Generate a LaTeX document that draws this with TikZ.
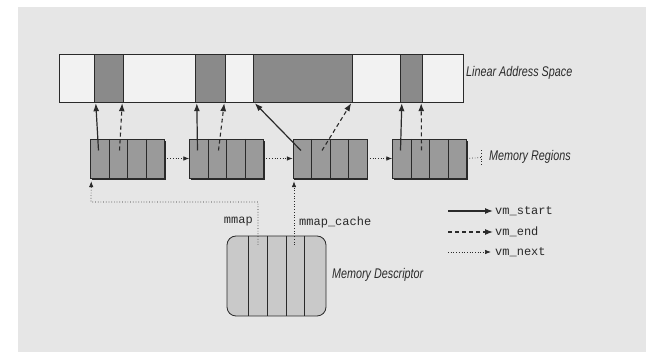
\documentclass[tikz,border=0pt]{standalone}
\usepackage{fontspec}
\setmonofont{Liberation Mono}
\newfontfamily\labelfont[FakeStretch=0.77]{Liberation Sans}
\usetikzlibrary{arrows.meta,calc,shadows}

\definecolor{paper}{HTML}{E6E6E6}
\definecolor{barwhite}{HTML}{F2F2F2}
\definecolor{segfill}{HTML}{8A8A8A}
\definecolor{regfill}{HTML}{9A9A9A}
\definecolor{mdfill}{HTML}{C9C9C9}
\definecolor{ink}{HTML}{2A2A2A}

\begin{document}
\begin{tikzpicture}[x=1pt, y=-1pt,
    segment/.style={draw=ink, fill=segfill, minimum height=48pt, inner sep=0pt},
    region/.style={draw=ink, fill=regfill, minimum width=74pt, minimum height=39pt, inner sep=0pt,
        drop shadow={shadow xshift=1.2pt, shadow yshift=-1.6pt, fill=ink, opacity=1},
        path picture={
            \foreach \f in {0.25,0.5,0.75}
                \draw[ink] ($(path picture bounding box.north west)!\f!(path picture bounding box.north east)$)
                    -- ($(path picture bounding box.south west)!\f!(path picture bounding box.south east)$);
        }},
    descriptor/.style={draw=ink, thick, fill=mdfill, rounded corners=9pt, minimum width=99pt, minimum height=80pt, inner sep=0pt,
        path picture={
            \foreach \f in {0.22,0.41,0.6,0.78}
                \draw[ink] ($(path picture bounding box.north west)!\f!(path picture bounding box.north east)$)
                    -- ($(path picture bounding box.south west)!\f!(path picture bounding box.south east)$);
        }},
    vmstart/.style={ink, line width=1.2pt, -{Latex[length=8pt,width=6pt]}},
    vmend/.style={ink, line width=1.1pt, dash pattern=on 4pt off 3pt, -{Latex[length=8pt,width=6pt]}},
    vmnext/.style={ink, line width=0.7pt, dotted, -{Latex[length=6pt,width=4.5pt]}},
    label/.style={font=\labelfont\itshape\fontsize{14}{16}\selectfont, text=ink, inner sep=0pt},
    mono/.style={font=\ttfamily\fontsize{12}{14}\selectfont, text=ink, inner sep=0pt}
]
    \useasboundingbox (0,0) rectangle (646,352);
    \fill[paper] (18,7) rectangle (646,352);

    % Linear address space with the mapped intervals
    \node[draw=ink, fill=barwhite, thick, minimum width=404pt, minimum height=48pt, inner sep=0pt] (bar) at (261,78) {};
    \node[segment, minimum width=29pt] (seg1) at (108.5,78) {};
    \node[segment, minimum width=30pt] (seg2) at (210,78) {};
    \node[segment, minimum width=99pt] (seg3) at (302.5,78) {};
    \node[segment, minimum width=22pt] (seg4) at (411,78) {};
    \node[label, anchor=west] (lastext) at (466,73) {Linear Address Space};

    % Memory regions
    \node[region] (r1) at (127.5,158.5) {};
    \node[region] (r2) at (226.5,158.5) {};
    \node[region] (r3) at (330,158.5) {};
    \node[region] (r4) at (429.5,158.5) {};
    \node[label, anchor=west] (regtext) at (489,157) {Memory Regions};

    % vm_start / vm_end pointers up to the address space
    \foreach \r/\s in {r1/seg1, r2/seg2, r3/seg3, r4/seg4} {
        \path (\r) ++(-29,-8) coordinate (\r-start) ++(21,0) coordinate (\r-end);
        \draw[vmstart] (\r-start) -- ([xshift=2pt,yshift=-1pt]\s.south west);
        \draw[vmend] (\r-end) -- ([xshift=-1pt,yshift=-1pt]\s.south east);
    }

    % vm_next chain
    \foreach \a/\b in {r1/r2, r2/r3, r3/r4} {
        \draw[vmnext] (\a.east) -- (\b.west);
    }
    \coordinate (nil) at (481,157.5);
    \draw[ink, line width=0.7pt, dotted] (r4.east) -- (nil);
    \draw[ink, line width=0.7pt, dotted] ($(nil)+(0,-7)$) -- ($(nil)+(0,7)$);

    % Memory descriptor
    \node[descriptor] (md) at (276.5,276) {};
    \node[label, anchor=west] (mdtext) at (332,275) {Memory Descriptor};
    \coordinate (mmap) at (258,245);
    \coordinate (cache) at (294,245);
    \coordinate (bend) at (91,202);
    \draw[vmnext, shorten >=3pt] (mmap) |- (bend) -- ([xshift=1pt]r1.south west);
    \draw[vmnext, shorten >=3pt] (cache) -- (cache |- r3.south);
    \node[mono, anchor=east] (mmaplbl) at (253,222) {mmap};
    \node[mono, anchor=west] (cachelbl) at (299,222) {mmap\_cache};

    % Legend
    \coordinate (ls1) at (448,211); \coordinate (le1) at (493,211);
    \coordinate (ls2) at (448,232); \coordinate (le2) at (493,232);
    \coordinate (ls3) at (448,252); \coordinate (le3) at (491,252);
    \draw[vmstart] (ls1) -- (le1);
    \draw[vmend] (ls2) -- (le2);
    \draw[vmnext] (ls3) -- (le3);
    \node[mono, anchor=west] (lg1) at (495,211) {vm\_start};
    \node[mono, anchor=west] (lg2) at (495,232) {vm\_end};
    \node[mono, anchor=west] (lg3) at (495,252) {vm\_next};

\end{tikzpicture}
\end{document}
